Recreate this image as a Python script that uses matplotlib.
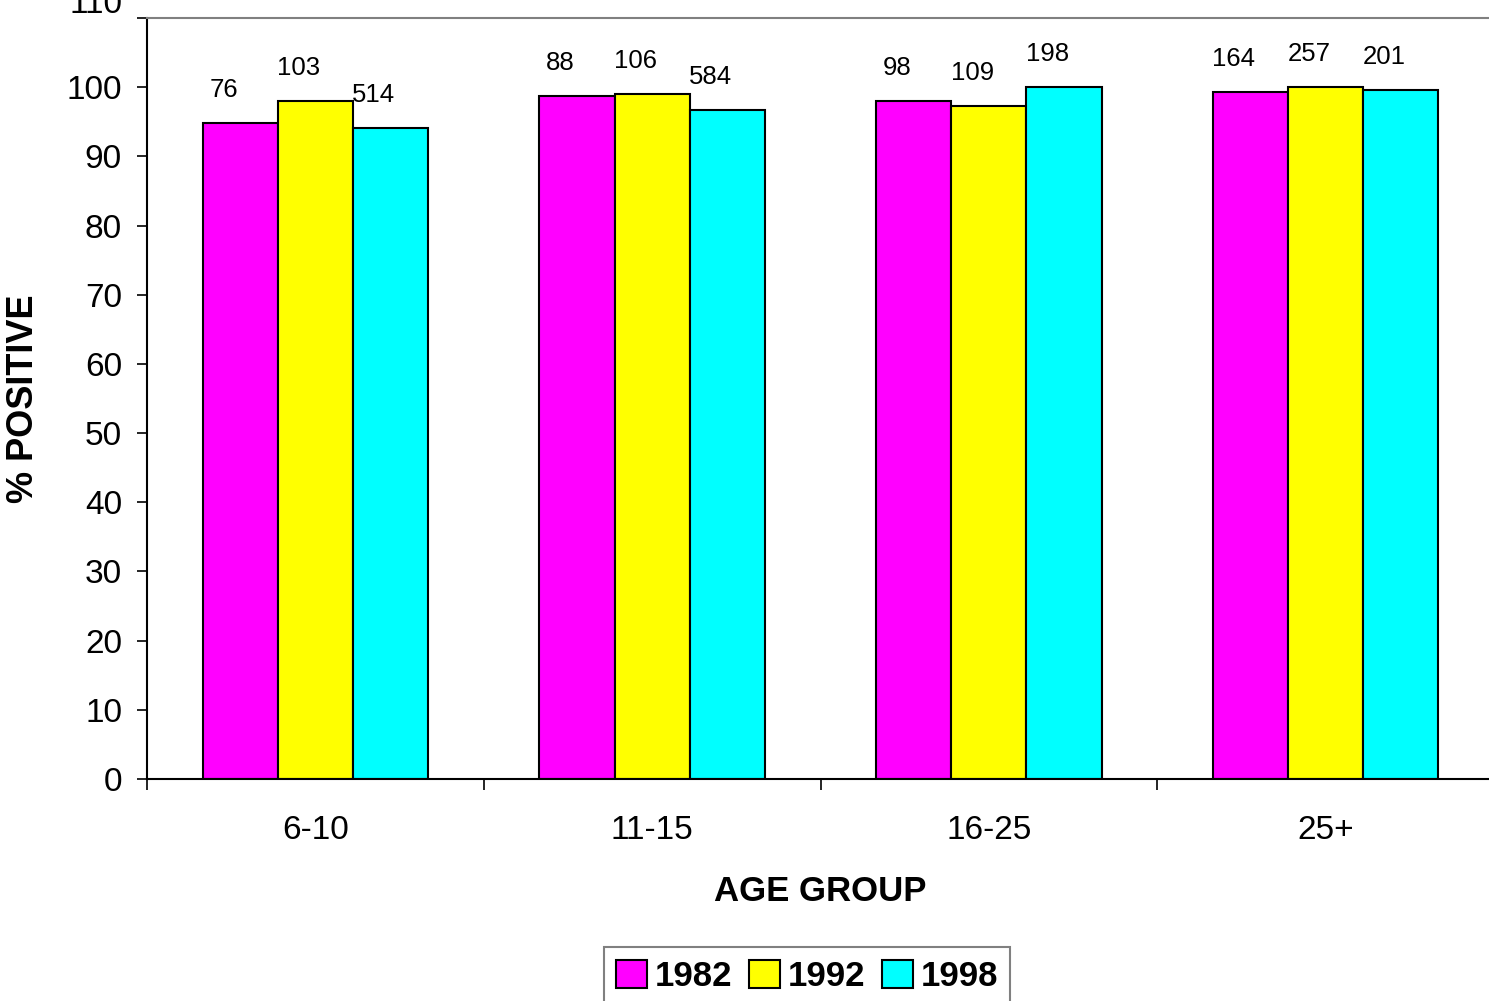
import numpy as np
import matplotlib.pyplot as plt
from matplotlib.patches import Patch
from matplotlib.transforms import ScaledTranslation

plt.rcParams['font.family'] = ['Liberation Sans', 'DejaVu Sans']

# Age groups and share of positives per survey year
age_groups = ['6-10', '11-15', '16-25', '25+']
years = ['1982', '1992', '1998']
pct_1982 = [94.8, 98.7, 98.0, 99.3]
pct_1992 = [98.0, 99.0, 97.3, 100.0]
pct_1998 = [94.1, 96.7, 100.0, 99.6]

# Number tested in each group (printed above the bars)
n_1982 = [76, 88, 98, 164]
n_1992 = [103, 106, 109, 257]
n_1998 = [514, 584, 198, 201]

colors = ['#FF00FF', '#FFFF00', '#00FFFF']

fig = plt.figure(figsize=(14.89, 10.01), dpi=100)
ax = fig.add_axes([147 / 1489, 1 - 779 / 1001, (1494 - 147) / 1489, (779 - 18) / 1001])

x = np.arange(len(age_groups))
width = 0.223
series = [(pct_1982, n_1982), (pct_1992, n_1992), (pct_1998, n_1998)]
for i, (vals, counts) in enumerate(series):
    pos = x + (i - 1) * width
    ax.bar(pos, vals, width, color=colors[i], edgecolor='black', linewidth=1.5)
    for xp, v, c in zip(pos, vals, counts):
        ax.annotate(str(c), (xp, v), xytext=(-12, 24), textcoords='offset points',
                    ha='center', va='center', fontsize=18.5)

ax.set_xlim(-0.5, 3.5)
ax.set_ylim(0, 110)
ax.set_yticks(np.arange(0, 111, 10))
ax.tick_params(axis='y', labelsize=24, length=7, width=1.2, pad=11)

# top label sits partly above the canvas
top_lbl = ax.get_yticklabels()[-1]
top_lbl.set_transform(top_lbl.get_transform() + ScaledTranslation(0, 0.17, fig.dpi_scale_trans))

ax.set_xticks(x)
ax.set_xticklabels(age_groups)
ax.set_xticks(np.arange(-0.5, 4, 1), minor=True)
ax.tick_params(axis='x', which='major', length=0, labelsize=24, pad=26)
ax.tick_params(axis='x', which='minor', length=8, width=1.2)

ax.spines['left'].set_linewidth(1.5)
ax.spines['bottom'].set_linewidth(1.5)
ax.spines['top'].set_color('#808080')
ax.spines['top'].set_linewidth(1.5)
ax.spines['right'].set_visible(False)

ax.set_ylabel('% POSITIVE', fontsize=26, fontweight='bold', labelpad=18)
ax.set_xlabel('AGE GROUP', fontsize=25, fontweight='bold', labelpad=21)

handles = [Patch(facecolor=c, edgecolor='black', linewidth=1.5) for c in colors]
leg = fig.legend(handles, years, loc='upper center',
                 bbox_to_anchor=(807 / 1489, 1 - 930 / 1001),
                 ncol=3, prop={'size': 25, 'weight': 'bold'},
                 fancybox=False, edgecolor='#808080', framealpha=1,
                 handlelength=0.9, handleheight=0.9, handletextpad=0.2,
                 columnspacing=0.5, borderpad=0.35)
leg.get_frame().set_linewidth(1.5)

fig.savefig('out.png', dpi=100)
